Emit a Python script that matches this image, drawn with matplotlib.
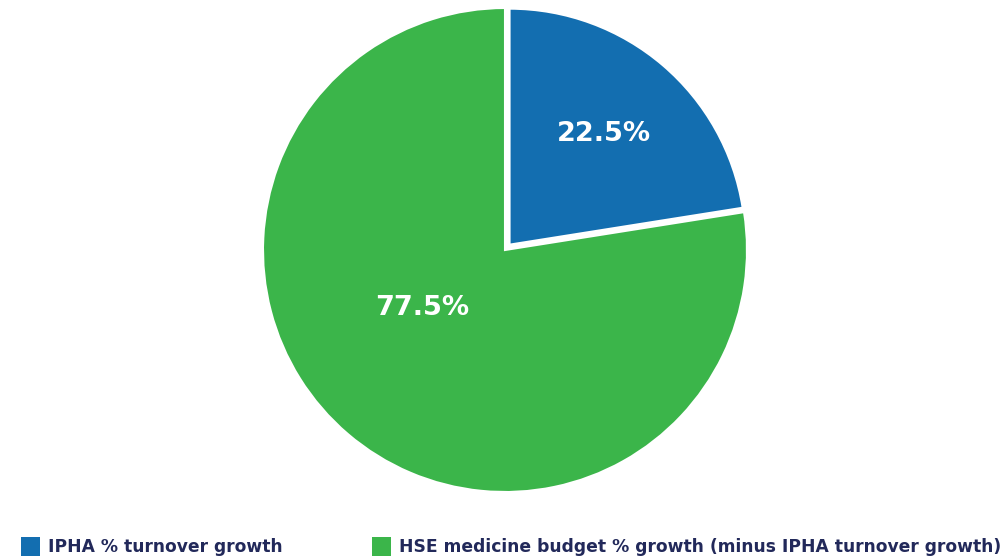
import matplotlib
matplotlib.use("Agg")
import matplotlib.pyplot as plt
from matplotlib.patches import Rectangle
import numpy as np

labels = ["IPHA % turnover growth",
          "HSE medicine budget % growth (minus IPHA turnover growth)"]
shares = [22.5, 77.5]
colors = ["#136eb0", "#3bb54a"]
text_navy = "#22295a"

W, H = 1004, 560
fig = plt.figure(figsize=(W / 100, H / 100), dpi=100)
ax = fig.add_axes([0, 0, 1, 1])

cx, cy, R = 505, 560 - 250, 242
wedges, _, autotexts = ax.pie(
    shares, colors=colors, startangle=90, counterclock=False,
    explode=[7, 0], center=(cx, cy), radius=R,
    autopct=lambda p: f"{p:.1f}%", pctdistance=0.60,
    wedgeprops=dict(edgecolor="white", linewidth=1.5),
    textprops=dict(color="white", fontsize=19.5, fontweight="bold", family="DejaVu Sans"),
)
# the pulled-out slice is drawn a touch smaller so its rim lines up with the rest
wedges[0].set_radius(R - 6)
for t in autotexts:
    t.set_va("center")
    t.set_ha("center")

# the larger slice's label sits nearer the centre, up-left of its bisector
ang = np.deg2rad(215)
autotexts[1].set_position((cx + 0.42 * R * np.cos(ang), cy + 0.42 * R * np.sin(ang)))

# pixel-space limits (pie() resets them)
ax.set_xlim(0, W)
ax.set_ylim(0, H)
ax.set_aspect("equal")
ax.axis("off")

# legend row along the bottom
leg_x = [21, 372]
for x0, lab, col in zip(leg_x, labels, colors):
    ax.add_patch(Rectangle((x0, 560 - 556), 19, 19, facecolor=col, edgecolor="none"))
    ax.text(x0 + 27, 560 - 546.5, lab, color=text_navy, fontsize=12.3,
            fontweight="bold", family="DejaVu Sans", va="center", ha="left")

fig.savefig("out.png", dpi=100, facecolor="white")
